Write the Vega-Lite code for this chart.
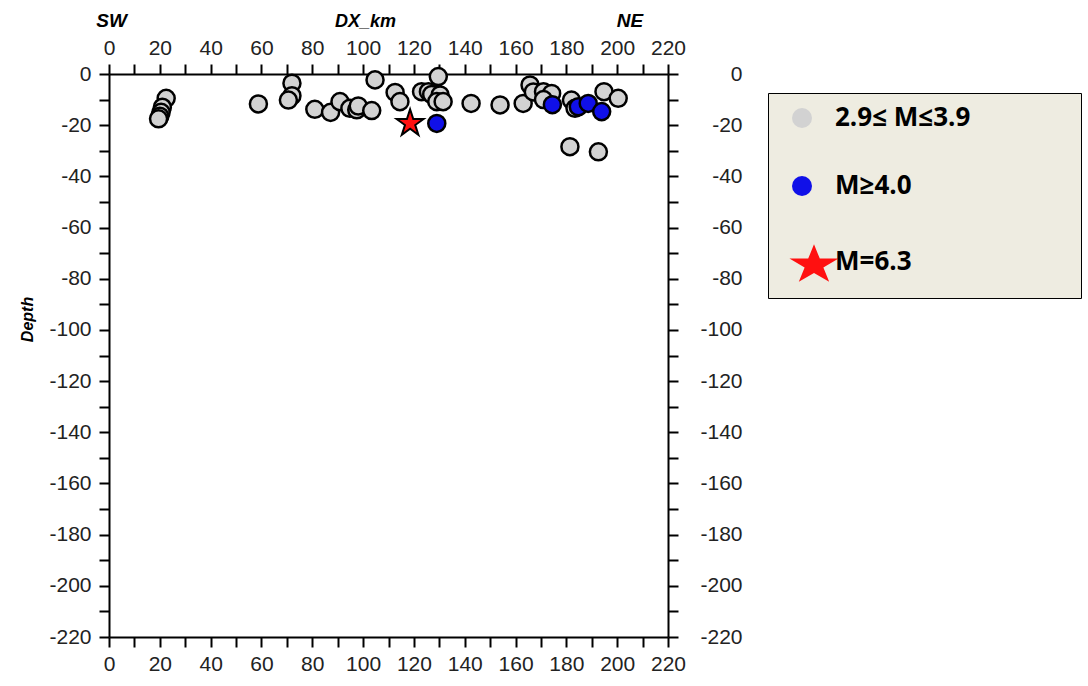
{
  "$schema": "https://vega.github.io/schema/vega-lite/v6.json",
  "width": 559,
  "height": 563,
  "autosize": {"type": "none"},
  "padding": {"left": 109, "top": 74, "right": 420, "bottom": 49},
  "background": "white",
  "config": {
    "view": {"stroke": null},
    "axis": {
      "grid": false,
      "domainColor": "black",
      "domainWidth": 2,
      "tickColor": "black",
      "tickWidth": 2,
      "tickSize": 10,
      "labelFont": "Liberation Sans",
      "labelFontSize": 21,
      "labelColor": "#222",
      "labelOverlap": false,
      "labelFlush": false
    }
  },
  "data": {
    "values": [
      {"dx": 22.5, "depth": -9.5, "cls": "2.9≤ M≤3.9"},
      {"dx": 21, "depth": -13, "cls": "2.9≤ M≤3.9"},
      {"dx": 20.5, "depth": -15, "cls": "2.9≤ M≤3.9"},
      {"dx": 20, "depth": -16.5, "cls": "2.9≤ M≤3.9"},
      {"dx": 19.5, "depth": -17.5, "cls": "2.9≤ M≤3.9"},
      {"dx": 58.8, "depth": -11.7, "cls": "2.9≤ M≤3.9"},
      {"dx": 72, "depth": -3.6, "cls": "2.9≤ M≤3.9"},
      {"dx": 72, "depth": -8.5, "cls": "2.9≤ M≤3.9"},
      {"dx": 70.6, "depth": -10.2, "cls": "2.9≤ M≤3.9"},
      {"dx": 81, "depth": -13.8, "cls": "2.9≤ M≤3.9"},
      {"dx": 87.2, "depth": -15, "cls": "2.9≤ M≤3.9"},
      {"dx": 90.9, "depth": -10.8, "cls": "2.9≤ M≤3.9"},
      {"dx": 94.8, "depth": -13.4, "cls": "2.9≤ M≤3.9"},
      {"dx": 97.5, "depth": -14, "cls": "2.9≤ M≤3.9"},
      {"dx": 98.1, "depth": -12.5, "cls": "2.9≤ M≤3.9"},
      {"dx": 103.4, "depth": -14.3, "cls": "2.9≤ M≤3.9"},
      {"dx": 104.7, "depth": -2.3, "cls": "2.9≤ M≤3.9"},
      {"dx": 112.6, "depth": -7.2, "cls": "2.9≤ M≤3.9"},
      {"dx": 114.5, "depth": -10.8, "cls": "2.9≤ M≤3.9"},
      {"dx": 123, "depth": -6.9, "cls": "2.9≤ M≤3.9"},
      {"dx": 125.7, "depth": -6.9, "cls": "2.9≤ M≤3.9"},
      {"dx": 127, "depth": -8, "cls": "2.9≤ M≤3.9"},
      {"dx": 129.6, "depth": -1, "cls": "2.9≤ M≤3.9"},
      {"dx": 130.3, "depth": -8.2, "cls": "2.9≤ M≤3.9"},
      {"dx": 129, "depth": -10.8, "cls": "2.9≤ M≤3.9"},
      {"dx": 131.5, "depth": -10.8, "cls": "2.9≤ M≤3.9"},
      {"dx": 142.5, "depth": -11.5, "cls": "2.9≤ M≤3.9"},
      {"dx": 153.9, "depth": -12.1, "cls": "2.9≤ M≤3.9"},
      {"dx": 163, "depth": -11.5, "cls": "2.9≤ M≤3.9"},
      {"dx": 165.7, "depth": -4.3, "cls": "2.9≤ M≤3.9"},
      {"dx": 167, "depth": -7, "cls": "2.9≤ M≤3.9"},
      {"dx": 171, "depth": -6.9, "cls": "2.9≤ M≤3.9"},
      {"dx": 174.2, "depth": -7.6, "cls": "2.9≤ M≤3.9"},
      {"dx": 171, "depth": -10, "cls": "2.9≤ M≤3.9"},
      {"dx": 182, "depth": -10.2, "cls": "2.9≤ M≤3.9"},
      {"dx": 183.4, "depth": -13.4, "cls": "2.9≤ M≤3.9"},
      {"dx": 194.8, "depth": -6.9, "cls": "2.9≤ M≤3.9"},
      {"dx": 200.4, "depth": -9.5, "cls": "2.9≤ M≤3.9"},
      {"dx": 181.4, "depth": -28.4, "cls": "2.9≤ M≤3.9"},
      {"dx": 192.6, "depth": -30.4, "cls": "2.9≤ M≤3.9"},
      {"dx": 129, "depth": -19.3, "cls": "M≥4.0"},
      {"dx": 174.5, "depth": -12, "cls": "M≥4.0"},
      {"dx": 184.7, "depth": -12.8, "cls": "M≥4.0"},
      {"dx": 188.6, "depth": -11.5, "cls": "M≥4.0"},
      {"dx": 193.9, "depth": -14.7, "cls": "M≥4.0"},
      {"dx": 118.5, "depth": -19.3, "cls": "M=6.3"}
    ]
  },
  "layer": [
    {
      "transform": [{"filter": "datum.cls !== 'M=6.3'"}],
      "mark": {"type": "point", "size": 290, "filled": true, "stroke": "black", "strokeWidth": 2.5, "opacity": 1},
      "encoding": {
        "x": {
          "field": "dx", "type": "quantitative",
          "scale": {"domain": [0, 220], "nice": false, "zero": false},
          "axis": {
            "orient": "bottom", "title": null,
            "values": [0,10,20,30,40,50,60,70,80,90,100,110,120,130,140,150,160,170,180,190,200,210,220],
            "labelExpr": "datum.value % 20 === 0 ? '' + datum.value : ''",
            "labelPadding": 6,
            "encode": {"ticks": {"update": {"y2": {"signal": "datum.value % 20 === 0 ? 10 : 5"}}}}
          }
        },
        "y": {
          "field": "depth", "type": "quantitative",
          "scale": {"domain": [-220, 0], "nice": false, "zero": false},
          "axis": {
            "orient": "left", "title": "Depth",
            "titleFont": "Liberation Sans", "titleFontStyle": "italic", "titleFontWeight": "bold", "titleFontSize": 16, "titleColor": "black",
            "titleX": -82, "titleY": 245, "titleAngle": -90, "titleAlign": "center", "titleBaseline": "middle",
            "values": [-220,-210,-200,-190,-180,-170,-160,-150,-140,-130,-120,-110,-100,-90,-80,-70,-60,-50,-40,-30,-20,-10,0],
            "labelExpr": "datum.value % 20 === 0 ? '' + datum.value : ''",
            "labelPadding": 8,
            "encode": {"ticks": {"update": {"x2": {"signal": "datum.value % 20 === 0 ? -10 : -5"}}}}
          }
        },
        "fill": {
          "field": "cls", "type": "nominal",
          "scale": {"domain": ["2.9≤ M≤3.9", "M≥4.0", "M=6.3"], "range": ["#d2d2d2", "#1010e8", "#ff1010"]},
          "legend": {
            "title": ".", "titleOrient": "right", "titlePadding": 96, "titleFontSize": 8, "titleColor": "transparent",
            "orient": "none", "legendX": 659, "legendY": 19,
            "fillColor": "#EEECE1", "strokeColor": "black",
            "padding": 12, "symbolSize": 400, "symbolOffset": 9, "rowPadding": 40,
            "labelFont": "Open Sans", "labelFontWeight": "bold", "labelFontSize": 26, "labelColor": "black",
            "labelOffset": 20, "labelLimit": 600,
            "symbolStrokeColor": "black", "symbolStrokeWidth": 2
          }
        },
        "shape": {
          "field": "cls", "type": "nominal",
          "scale": {"domain": ["2.9≤ M≤3.9", "M≥4.0", "M=6.3"], "range": ["circle", "circle", "M1.2,-1.764L1.78,-0.338L3.654,-0.338L2.138,0.544L2.717,1.97L1.2,1.089L-0.317,1.97L0.262,0.544L-1.254,-0.338L0.62,-0.338Z"]},
          "legend": {
            "title": ".", "titleOrient": "right", "titlePadding": 96, "titleFontSize": 8, "titleColor": "transparent",
            "orient": "none", "legendX": 659, "legendY": 19,
            "fillColor": "#EEECE1", "strokeColor": "black",
            "padding": 12, "symbolSize": 400, "symbolOffset": 9, "rowPadding": 40,
            "labelFont": "Open Sans", "labelFontWeight": "bold", "labelFontSize": 26, "labelColor": "black",
            "labelOffset": 20, "labelLimit": 600,
            "symbolStrokeColor": "black", "symbolStrokeWidth": 2
          }
        }
      }
    },
    {
      "transform": [{"filter": "datum.cls === 'M=6.3'"}],
      "mark": {"type": "point", "shape": "M0,-1L0.2245,-0.309L0.951,-0.309L0.363,0.118L0.588,0.809L0,0.382L-0.588,0.809L-0.363,0.118L-0.951,-0.309L-0.2245,-0.309Z", "size": 800, "filled": true, "stroke": "black", "strokeWidth": 2, "opacity": 1},
      "encoding": {
        "x": {"field": "dx", "type": "quantitative", "scale": {"domain": [0, 220], "nice": false, "zero": false}, "axis": null},
        "y": {"field": "depth", "type": "quantitative", "scale": {"domain": [-220, 0], "nice": false, "zero": false}, "axis": null},
        "fill": {"field": "cls", "type": "nominal", "legend": null}
      }
    },
    {
      "data": {"values": [{}]},
      "mark": {"type": "text", "text": "SW", "font": "Liberation Sans", "fontSize": 19, "fontStyle": "italic", "fontWeight": "bold", "color": "black", "clip": false, "align": "center", "baseline": "middle"},
      "encoding": {
        "x": {
          "datum": 1, "type": "quantitative",
          "scale": {"domain": [0, 220], "nice": false, "zero": false},
          "axis": {
            "orient": "top", "title": "DX_km",
            "titleFont": "Liberation Sans", "titleFontStyle": "italic", "titleFontWeight": "bold", "titleFontSize": 18, "titleColor": "black",
            "titleX": 256, "titleY": -53, "titleAlign": "center", "titleBaseline": "middle",
            "values": [0,10,20,30,40,50,60,70,80,90,100,110,120,130,140,150,160,170,180,190,200,210,220],
            "labelExpr": "datum.value % 20 === 0 ? '' + datum.value : ''",
            "labelPadding": 6,
            "encode": {"ticks": {"update": {"y2": {"signal": "datum.value % 20 === 0 ? -10 : -5"}}}}
          }
        },
        "y": {
          "datum": 20.7, "type": "quantitative",
          "scale": {"domain": [-220, 0], "nice": false, "zero": false},
          "axis": {
            "orient": "right", "title": null,
            "values": [-220,-210,-200,-190,-180,-170,-160,-150,-140,-130,-120,-110,-100,-90,-80,-70,-60,-50,-40,-30,-20,-10,0],
            "labelExpr": "datum.value % 20 === 0 ? '' + datum.value : ''",
            "labelAlign": "right",
            "labelPadding": 64,
            "encode": {"ticks": {"update": {"x2": {"signal": "datum.value % 20 === 0 ? 10 : 5"}}}}
          }
        }
      }
    },
    {
      "data": {"values": [{}]},
      "mark": {"type": "text", "text": "NE", "font": "Liberation Sans", "fontSize": 19, "fontStyle": "italic", "fontWeight": "bold", "color": "black", "clip": false, "align": "center", "baseline": "middle"},
      "encoding": {
        "x": {"datum": 205, "type": "quantitative", "scale": {"domain": [0, 220], "nice": false, "zero": false}, "axis": null},
        "y": {"datum": 20.7, "type": "quantitative", "scale": {"domain": [-220, 0], "nice": false, "zero": false}, "axis": null}
      }
    }
  ],
  "resolve": {"axis": {"x": "independent", "y": "independent"}}
}
